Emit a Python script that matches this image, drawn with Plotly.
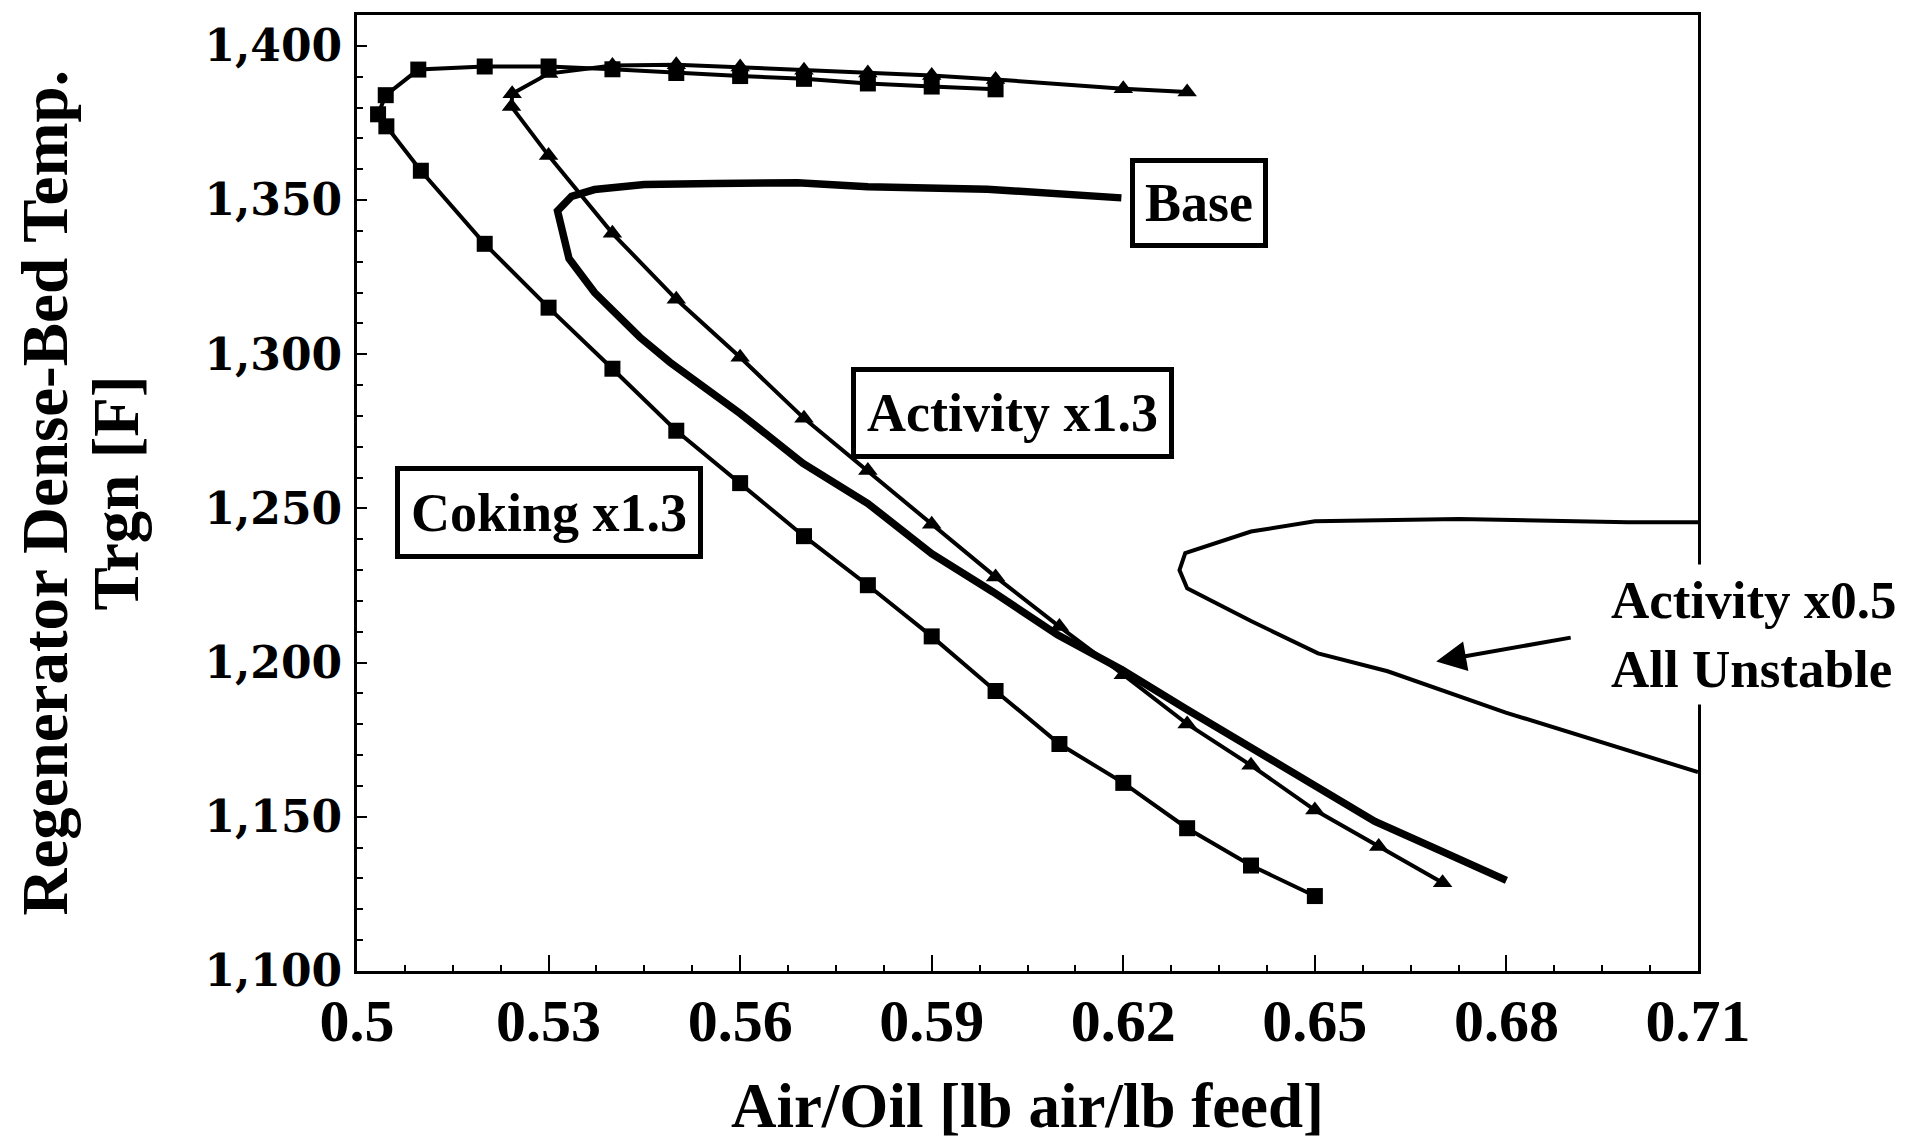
import plotly.graph_objects as go

# ---------------- data ----------------
coking_x = [0.65, 0.64, 0.63, 0.62, 0.61, 0.60, 0.59, 0.58, 0.57, 0.56, 0.55, 0.54, 0.53, 0.52, 0.51,
            0.5046, 0.5033, 0.5045, 0.5096, 0.52, 0.53, 0.54, 0.55, 0.56, 0.57, 0.58, 0.59, 0.60]
coking_y = [1124.3, 1134.2, 1146.3, 1161.0, 1173.6, 1190.8, 1208.5, 1225.1, 1241.0, 1258.2, 1275.2,
            1295.3, 1315.1, 1335.8, 1359.5, 1373.9, 1377.8, 1384.0, 1392.3, 1393.3, 1393.3, 1392.4,
            1391.2, 1390.2, 1389.3, 1387.8, 1386.8, 1385.9]

act13_x = [0.67, 0.66, 0.65, 0.64, 0.63, 0.62, 0.61, 0.60, 0.59, 0.58, 0.57, 0.56, 0.55, 0.54, 0.53,
           0.5242, 0.5243, 0.53, 0.54, 0.55, 0.56, 0.57, 0.58, 0.59, 0.60, 0.62, 0.63]
act13_y = [1128.6, 1140.4, 1152.2, 1166.7, 1180.1, 1196.1, 1211.7, 1227.8, 1244.9, 1262.3, 1279.2,
           1299.0, 1317.8, 1339.2, 1364.4, 1380.3, 1384.5, 1391.0, 1393.6, 1393.9, 1393.1, 1392.1,
           1391.2, 1390.4, 1389.1, 1386.1, 1385.0]

base_x = [0.6197, 0.5987, 0.58, 0.569, 0.556, 0.545, 0.5372, 0.5336, 0.5314, 0.5332, 0.5372, 0.5443,
          0.549, 0.56, 0.5698, 0.58, 0.59, 0.5996, 0.6097, 0.6198, 0.6299, 0.64, 0.6497, 0.6594,
          0.6699, 0.68]
base_y = [1350.7, 1353.5, 1354.3, 1355.6, 1355.4, 1355.0, 1353.4, 1351.2, 1346.5, 1331.0, 1320.0,
          1305.5, 1297.4, 1280.8, 1264.7, 1251.6, 1235.3, 1222.9, 1209.0, 1197.7, 1184.9, 1172.6,
          1160.8, 1148.5, 1138.8, 1129.4]

act05_x = [0.71, 0.699, 0.6726, 0.65, 0.64, 0.6297, 0.6288, 0.63, 0.64, 0.6505, 0.6614, 0.6799, 0.71]
act05_y = [1245.5, 1245.5, 1246.6, 1245.8, 1242.5, 1235.5, 1230.0, 1224.1, 1213.5, 1203.0, 1197.2,
           1183.8, 1164.5]

x_tickvals = [0.5, 0.53, 0.56, 0.59, 0.62, 0.65, 0.68, 0.71]
x_ticktext = ["0.5", "0.53", "0.56", "0.59", "0.62", "0.65", "0.68", "0.71"]
y_tickvals = [1100, 1150, 1200, 1250, 1300, 1350, 1400]
y_ticktext = ["1,100", "1,150", "1,200", "1,250", "1,300", "1,350", "1,400"]

box_labels = ["Base", "Activity x1.3", "Coking x1.3"]
box_x = [0.6318, 0.6026, 0.5300]
box_y = [1348.9, 1281.0, 1248.6]
box_w = [128, 313, 298]
box_h = [80, 82, 83]

note_text = "Activity x0.5<br>All Unstable"
x_title = "Air/Oil [lb air/lb feed]"
y_title_lines = ["Regenerator Dense-Bed Temp.", "Trgn [F]"]

# ---------------- figure ----------------
SERIF = "Liberation Serif"
fig = go.Figure()

fig.add_trace(go.Scatter(x=coking_x, y=coking_y, mode="lines+markers", name="Coking x1.3",
                         line=dict(color="black", width=4),
                         marker=dict(symbol="square", size=16, color="black")))
fig.add_trace(go.Scatter(x=act13_x, y=act13_y, mode="lines+markers", name="Activity x1.3",
                         line=dict(color="black", width=4),
                         marker=dict(symbol="triangle-up", size=17, color="black")))
fig.add_trace(go.Scatter(x=base_x, y=base_y, mode="lines", name="Base",
                         line=dict(color="black", width=7.5)))
fig.add_trace(go.Scatter(x=act05_x, y=act05_y, mode="lines", name="Activity x0.5",
                         line=dict(color="black", width=4)))

annotations = []
for t, bx, by, w, h in zip(box_labels, box_x, box_y, box_w, box_h):
    annotations.append(dict(x=bx, y=by, xref="x", yref="y", text=t, showarrow=False,
                            font=dict(family=SERIF, size=54, color="black", weight="bold"),
                            bgcolor="white", bordercolor="black", borderwidth=5, borderpad=0,
                            width=w, height=h, xanchor="center", yanchor="middle"))

# unboxed note with white background (covers the right frame)
annotations.append(dict(x=0.6953, y=1209, xref="x", yref="y", text=note_text, showarrow=False,
                        align="left", xanchor="left", yanchor="middle",
                        font=dict(family=SERIF, size=53, color="black", weight="bold"),
                        bgcolor="white", borderpad=6))
# arrow pointing to the Activity x0.5 curve
annotations.append(dict(x=0.669, y=1200.4, xref="x", yref="y", text="", showarrow=True,
                        ax=136, ay=-24, arrowhead=2, arrowsize=1.5, arrowwidth=4,
                        arrowcolor="black"))
# y-axis title (two lines)
for ln, px in zip(y_title_lines, [-0.2330, -0.1800]):
    annotations.append(dict(x=px, y=0.5, xref="paper", yref="paper", text=ln, showarrow=False,
                            textangle=-90, xanchor="center", yanchor="middle",
                            font=dict(family=SERIF, size=65, color="black", weight="bold")))

fig.update_layout(
    width=1906, height=1141,
    margin=dict(l=357, r=208, t=14, b=162),
    paper_bgcolor="white", plot_bgcolor="white",
    showlegend=False,
    font=dict(family=SERIF, color="black"),
    annotations=annotations,
)

fig.update_xaxes(range=[0.5, 0.71], tickmode="array", tickvals=x_tickvals, ticktext=x_ticktext,
                 showgrid=False, zeroline=False, showline=True, linecolor="black", linewidth=3,
                 mirror=True, ticks="inside", ticklen=16, tickwidth=2, tickcolor="black",
                 tickfont=dict(family=SERIF, size=60, color="black", weight="bold"),
                 ticklabelstandoff=-5,
                 minor=dict(ticks="inside", ticklen=6, tickwidth=2, tickcolor="black",
                            tick0=0.5, dtick=0.0075, showgrid=False),
                 title=dict(text=x_title, standoff=31,
                            font=dict(family=SERIF, size=63, color="black", weight="bold")))

fig.update_yaxes(range=[1100, 1410], tickmode="array", tickvals=y_tickvals, ticktext=y_ticktext,
                 showgrid=False, zeroline=False, showline=True, linecolor="black", linewidth=3,
                 mirror=True, ticks="inside", ticklen=10, tickwidth=2, tickcolor="black",
                 tickfont=dict(family="DejaVu Serif", size=44, color="black", weight="bold"),
                 ticklabelstandoff=3,
                 minor=dict(ticks="inside", ticklen=6, tickwidth=2, tickcolor="black",
                            tick0=1100, dtick=10, showgrid=False))

fig.write_html("out.html")
